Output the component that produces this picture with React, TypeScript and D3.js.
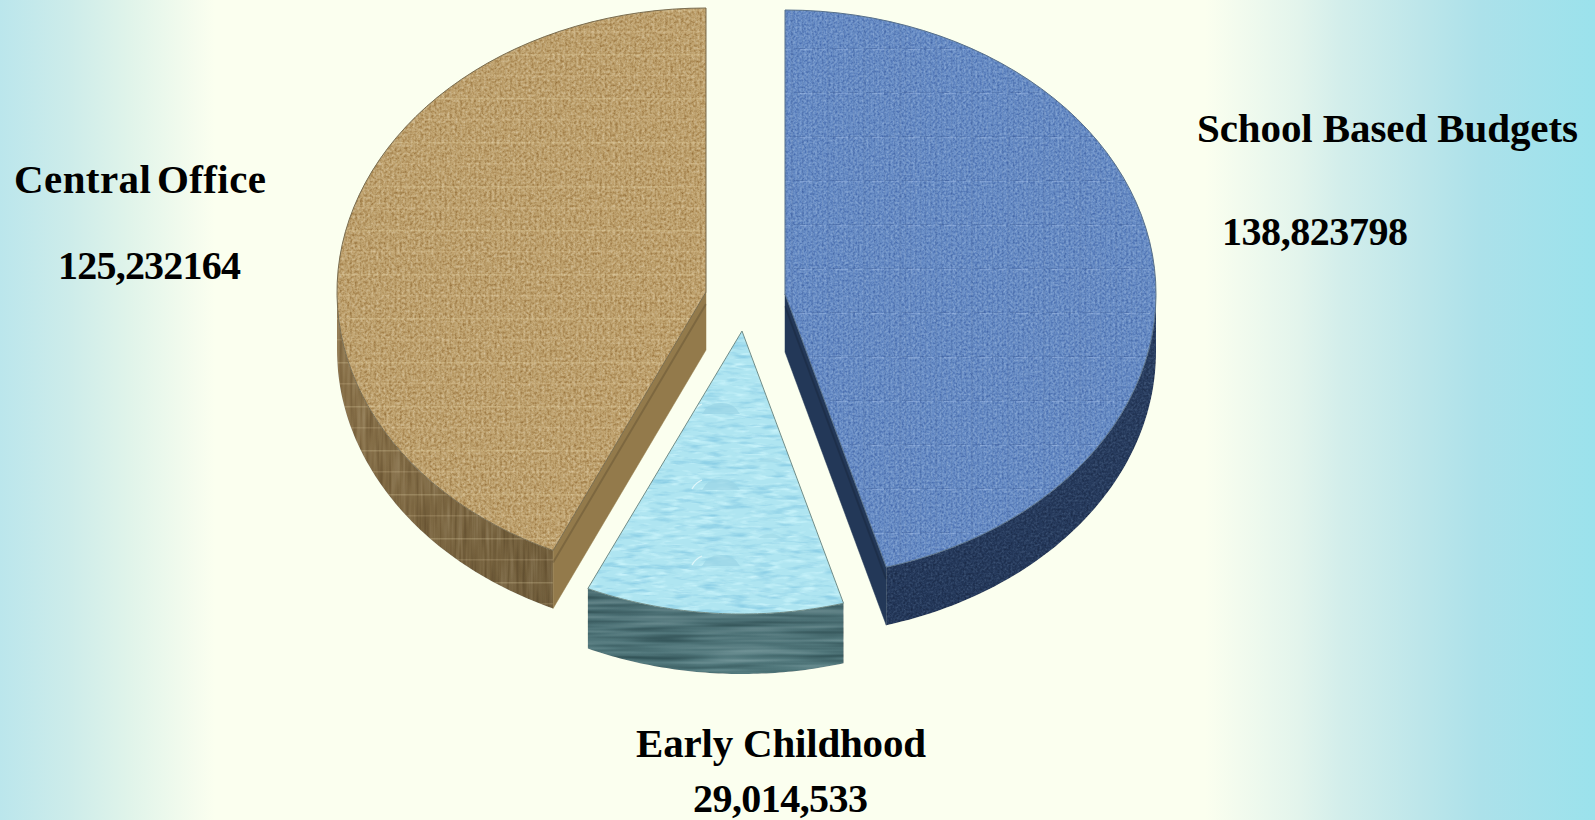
import React from "react";
import * as d3 from "d3";

// ---- data ----
const categories = ["School Based Budgets", "Early Childhood", "Central Office"];
const amountLabels = ["138,823798", "29,014,533", "125,232164"];
// Share of the circle each slice takes up as drawn (percent).
const drawnShares = [45.6, 11.2, 43.2];

// ---- layout and style ----
const W = 1595;
const H = 820;
const sliceLayout = [
  { cx: 785, cy: 294, rx: 371, ry: 284, depth: 58 },
  { cx: 742, cy: 331, rx: 372, ry: 283, depth: 60 },
  { cx: 706, cy: 292, rx: 369, ry: 284, depth: 58 },
];
const sliceStyle = [
  { top: "#688dc6", texture: "url(#fBlue)", rim: "url(#gBlueRim)", wall: "#233858", rimFilter: "url(#fGrain)", stroke: "#56708c", weave: "url(#pBlueWeave)" },
  { top: "#afe5f1", texture: "url(#fWater)", rim: "url(#gTealRim)", wall: "#4d7378", rimFilter: "url(#fStreak)", stroke: "#6f8c88", weave: "url(#pDomes)" },
  { top: "#bfa26e", texture: "url(#fTan)", rim: "url(#gTanRim)", wall: "#937a4b", rimFilter: "url(#fFibre)", stroke: "#7b6d4e", weave: "url(#pWeave)" },
];
const labelLayout = [
  { nameX: 1197, nameY: 142, nameW: 381, valueX: 1222, valueY: 245, valueW: 186, gap: 0 },
  { nameX: 636, nameY: 757, nameW: 290, valueX: 693, valueY: 812, valueW: 175, gap: 0 },
  { nameX: 14, nameY: 193, nameW: 252, valueX: 58, valueY: 279, valueW: 183, gap: -5 },
];
const FONT = "'Liberation Serif','Times New Roman',serif";

const tau = 2 * Math.PI;
const front0 = Math.PI / 2;
const front1 = (3 * Math.PI) / 2;

function slicePaths(a0: number, a1: number, l: (typeof sliceLayout)[number]) {
  const sx = d3.scaleLinear().domain([-1, 1]).range([l.cx - l.rx, l.cx + l.rx]);
  const sy = d3.scaleLinear().domain([-1, 1]).range([l.cy - l.ry, l.cy + l.ry]);
  const pt = (t: number, dy = 0): [number, number] => [sx(Math.sin(t)), sy(-Math.cos(t)) + dy];
  const apex: [number, number] = [sx(0), sy(0)];
  const line = d3.line();
  const samples = (p: number, q: number) => d3.range(0, 61).map((i) => p + ((q - p) * i) / 60);

  const top = line([apex, ...samples(a0, a1).map((t) => pt(t))]) + "Z";

  const r0 = Math.max(a0, front0);
  const r1 = Math.min(a1, front1);
  const rim =
    r1 > r0
      ? line([
          ...samples(r0, r1).map((t) => pt(t)),
          ...samples(r1, r0).map((t) => pt(t, l.depth)),
        ]) + "Z"
      : null;

  const walls: { d: string; edge: string }[] = [];
  const wallAt = (t: number) => {
    const p = pt(t);
    return {
      d: line([apex, p, [p[0], p[1] + l.depth], [apex[0], apex[1] + l.depth]]) + "Z",
      edge: line([[apex[0], apex[1] + 12], [p[0], p[1] + 12]]) as string,
    };
  };
  if (a0 > Math.PI && a0 < tau) walls.push(wallAt(a0));
  if (a1 > 0 && a1 < Math.PI) walls.push(wallAt(a1));
  return { top, rim, walls };
}

function noiseGain(g: number) {
  const o = 0.5 - g / 2;
  return `${g} 0 0 0 ${o} ${g} 0 0 0 ${o} ${g} 0 0 0 ${o} 0 0 0 0 1`;
}

function GrainFilter({ id, freq, seed, gain, blur, octaves = 2 }: { id: string; freq: string; seed: number; gain: number; blur: number; octaves?: number }) {
  return (
    <filter id={id} x="0" y="0" width="1" height="1" colorInterpolationFilters="sRGB">
      <feTurbulence type="fractalNoise" baseFrequency={freq} numOctaves={octaves} seed={seed} result="n" />
      <feColorMatrix in="n" type="matrix" values={noiseGain(gain)} result="g0" />
      <feGaussianBlur in="g0" stdDeviation={blur} result="g" />
      <feBlend in="g" in2="SourceGraphic" mode="soft-light" result="b" />
      <feComposite in="b" in2="SourceAlpha" operator="in" />
    </filter>
  );
}

function Defs() {
  return (
    <defs>
      <linearGradient id="bg" gradientUnits="userSpaceOnUse" x1="0" x2={W} y1="0" y2="0">
        <stop offset={0 / W} stopColor="#bbe6ec" />
        <stop offset={70 / W} stopColor="#cdecea" />
        <stop offset={130 / W} stopColor="#e0f4ea" />
        <stop offset={195 / W} stopColor="#f5fcee" />
        <stop offset={215 / W} stopColor="#fbffef" />
        <stop offset={1205 / W} stopColor="#fbffef" />
        <stop offset={1300 / W} stopColor="#e2f4ec" />
        <stop offset={1340 / W} stopColor="#d3eeeb" />
        <stop offset={1420 / W} stopColor="#bde6ea" />
        <stop offset={1480 / W} stopColor="#ace1ea" />
        <stop offset={1} stopColor="#9be2ec" />
      </linearGradient>
      <linearGradient id="gBlueRim" x1="0" x2="0" y1="0" y2="1">
        <stop offset="0" stopColor="#2a3f62" />
        <stop offset="1" stopColor="#24385a" />
      </linearGradient>
      <linearGradient id="gTealRim" x1="0" x2="0" y1="0" y2="1">
        <stop offset="0" stopColor="#486b70" />
        <stop offset="1" stopColor="#537a7e" />
      </linearGradient>
      <linearGradient id="gTanRim" x1="0" x2="1" y1="0" y2="1">
        <stop offset="0" stopColor="#8f774e" />
        <stop offset="1" stopColor="#6f5c3a" />
      </linearGradient>

      <pattern id="pWeave" width="5" height="44" patternUnits="userSpaceOnUse">
        <rect x="0" width="1.4" height="44" fill="#5a441c" opacity="0.08" />
        <rect y="10" width="5" height="1.5" fill="#f3e2b4" opacity="0.22" />
        <rect y="31" width="5" height="1.5" fill="#f3e2b4" opacity="0.16" />
      </pattern>
      <pattern id="pBlueWeave" width="36" height="44" patternUnits="userSpaceOnUse">
        {d3.range(0, 36, 5).map((x) => (
          <rect key={x} x={x} width="1.4" height="44" fill="#1b2f58" opacity="0.07" />
        ))}
        <rect x="2" y="4" width="11" height="1" fill="#34558f" opacity="0.32" />
        <rect x="20" y="4" width="10" height="1" fill="#34558f" opacity="0.26" />
        <rect x="8" y="5" width="12" height="1.2" fill="#a8c4ec" opacity="0.38" />
        <rect x="27" y="5" width="7" height="1.2" fill="#a8c4ec" opacity="0.3" />
      </pattern>
      <pattern id="pDomes" width="150" height="76" patternUnits="userSpaceOnUse" x="640" y="452">
        <path d="M62 38 q6 -12 20 -11 q12 0 18 11 z" fill="#9ad5e6" opacity="0.7" />
        <path d="M52 37 q3 -6 10 -9" fill="none" stroke="#dff7fb" strokeWidth="1.2" />
        <path d="M118 10 q6 -5 16 -4 q6 2 8 4 z" fill="#a0d9e8" opacity="0.6" />
      </pattern>

      <GrainFilter id="fTan" freq="0.38" seed={4} gain={0.95} blur={0.6} octaves={3} />
      <GrainFilter id="fBlue" freq="0.45" seed={9} gain={0.75} blur={0.6} />
      <GrainFilter id="fGrain" freq="0.45" seed={2} gain={0.5} blur={0.5} />
      <GrainFilter id="fStreak" freq="0.01 0.2" seed={5} gain={0.7} blur={0.6} />
      <GrainFilter id="fFibre" freq="0.3 0.02" seed={12} gain={0.45} blur={0.6} />

      <filter id="fWater" x="0" y="0" width="1" height="1" colorInterpolationFilters="sRGB">
        <feTurbulence type="fractalNoise" baseFrequency="0.04 0.2" numOctaves="3" seed="7" result="n" />
        <feColorMatrix in="n" type="matrix" values="0 0 0 0 0.55 0 0 0 0 0.81 0 0 0 0 0.9 3 0 0 0 -1.5" result="w0" />
        <feGaussianBlur in="w0" stdDeviation="0.6" result="w" />
        <feTurbulence type="fractalNoise" baseFrequency="0.06 0.25" numOctaves="2" seed="21" result="n2" />
        <feColorMatrix in="n2" type="matrix" values="0 0 0 0 0.78 0 0 0 0 0.95 0 0 0 0 0.98 3 0 0 0 -1.45" result="l0" />
        <feGaussianBlur in="l0" stdDeviation="0.6" result="l" />
        <feMerge result="m">
          <feMergeNode in="SourceGraphic" />
          <feMergeNode in="l" />
          <feMergeNode in="w" />
        </feMerge>
        <feComposite in="m" in2="SourceAlpha" operator="in" />
      </filter>
    </defs>
  );
}

export default function App() {
  const arcs = d3.pie<number>().sort(null).startAngle(0).endAngle(tau)(drawnShares);

  return (
    <svg
      width={W}
      height={H}
      viewBox={`0 0 ${W} ${H}`}
      style={{ position: "absolute", left: 0, top: 0, display: "block" }}
    >
      <Defs />
      <rect width={W} height={H} fill="url(#bg)" />

      {arcs.map((a, i) => {
        const l = sliceLayout[i];
        const s = sliceStyle[i];
        const p = slicePaths(a.startAngle, a.endAngle, l);
        return (
          <g key={categories[i]}>
            {p.rim && (
              <g>
                <path d={p.rim} fill={s.rim} filter={s.rimFilter} />
                {i === 2 && <path d={p.rim} fill="url(#pWeave)" />}
              </g>
            )}
            {p.walls.map((w, k) => (
              <g key={k}>
                <path d={w.d} fill={s.wall} stroke={s.wall} strokeWidth={0.5} />
                <path d={w.edge} fill="none" stroke="#000" strokeOpacity={0.15} strokeWidth={2} />
              </g>
            ))}
            <path d={p.top} fill={s.top} filter={s.texture} />
            <path d={p.top} fill={s.weave} />
            <path d={p.top} fill="none" stroke={s.stroke} strokeWidth={1} />
          </g>
        );
      })}

      <g fontFamily={FONT} fontWeight="bold" fill="#000">
        {categories.map((c, i) => {
          const t = labelLayout[i];
          return (
            <g key={c}>
              <text x={t.nameX} y={t.nameY} fontSize={41} wordSpacing={t.gap} textLength={t.nameW} lengthAdjust="spacing">
                {c}
              </text>
              <text x={t.valueX} y={t.valueY} fontSize={40} textLength={t.valueW} lengthAdjust="spacing">
                {amountLabels[i]}
              </text>
            </g>
          );
        })}
      </g>
    </svg>
  );
}
